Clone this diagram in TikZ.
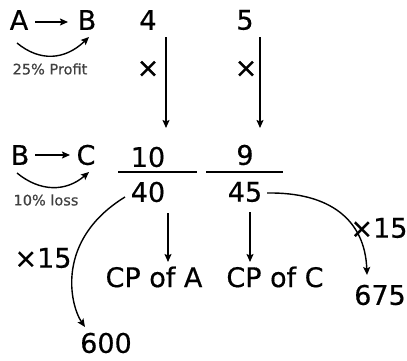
\documentclass[tikz,border=0pt]{standalone}
\usepackage{fontspec}
\setmainfont[FakeBold=0.5]{DejaVu Sans ExtraLight}
\usetikzlibrary{arrows.meta,calc}
\begin{document}
\begin{tikzpicture}[x=1pt,y=1pt,
  big/.style={inner sep=0pt,font=\fontsize{27}{30}\bfseries},
  small/.style={inner sep=0pt,text=black!75,font=\fontsize{14.5}{16}\bfseries},
  arr/.style={line width=1.4pt,-{Stealth[length=8pt,width=7pt,inset=1.5pt]}},
  rule/.style={line width=1.4pt}]
\useasboundingbox (0,0) rectangle (407,360);
% top row
\node[big] (A) at (19,340) {A};
\node[big] (B) at (87,340) {B};
\node[small] (pr) at (50,291) {25\% Profit};
\node[big] (n4) at (148,340) {4};
\node[big] (n5) at (245,340) {5};
\node[big] (x1) at (148,291) {×};
\node[big] (x2) at (246,291) {×};
% second row
\node[big] (B2) at (20,205) {B};
\node[big] (C) at (86,205) {C};
\node[small] (ls) at (46,160) {10\% loss};
\node[big] (n10) at (148,203) {10};
\node[big] (n9) at (245,205) {9};
\node[big] (n40) at (148,168) {40};
\node[big] (n45) at (245,168) {45};
\node[big] (cpA) at (154,83) {CP of A};
\node[big] (cpC) at (275,83) {CP of C};
\node[big] (m1) at (379,132) {×15};
\node[big] (r675) at (380,65) {675};
\node[big] (m2) at (43,102) {×15};
\node[big] (r600) at (106,17) {600};
% fraction rules
\draw[rule] (118,188) -- (197,188);
\draw[rule] (206,188) -- (283,188);
% arrows
\draw[arr] ($(A)+(16,-2)$) -- ($(B)+(-19,-2)$);
\draw[arr] ($(B2)+(15,0)$) -- ($(C)+(-16,0)$);
\draw[arr] ($(A)+(-2,-23)$) .. controls ($(A)+(21,-42)$) and ($(B)+(-22,-40)$) .. ($(B)+(2,-17)$);
\draw[arr] ($(B2)+(-3,-18)$) .. controls ($(B2)+(20,-37)$) and ($(C)+(-20,-37)$) .. ($(C)+(3,-17)$);
\draw[arr] ($(n4)+(18,-17)$) -- ($(n10)+(18,29)$);
\draw[arr] ($(n5)+(15,-17)$) -- ($(n9)+(15,27)$);
\draw[arr] ($(n40)+(20,-21)$) -- ($(cpA)+(14,15)$);
\draw[arr] ($(n45)+(5,-20)$) -- ($(cpC)+(-25,15)$);
\draw[arr] ($(n45)+(22,-1)$) .. controls (330,168) and (365,140) .. ($(r675)+(-13,20)$);
\draw[arr] ($(n40)+(-23,-5)$) .. controls (55,120) and (70,55) .. ($(r600)+(-21,16)$);
\end{tikzpicture}
\end{document}
